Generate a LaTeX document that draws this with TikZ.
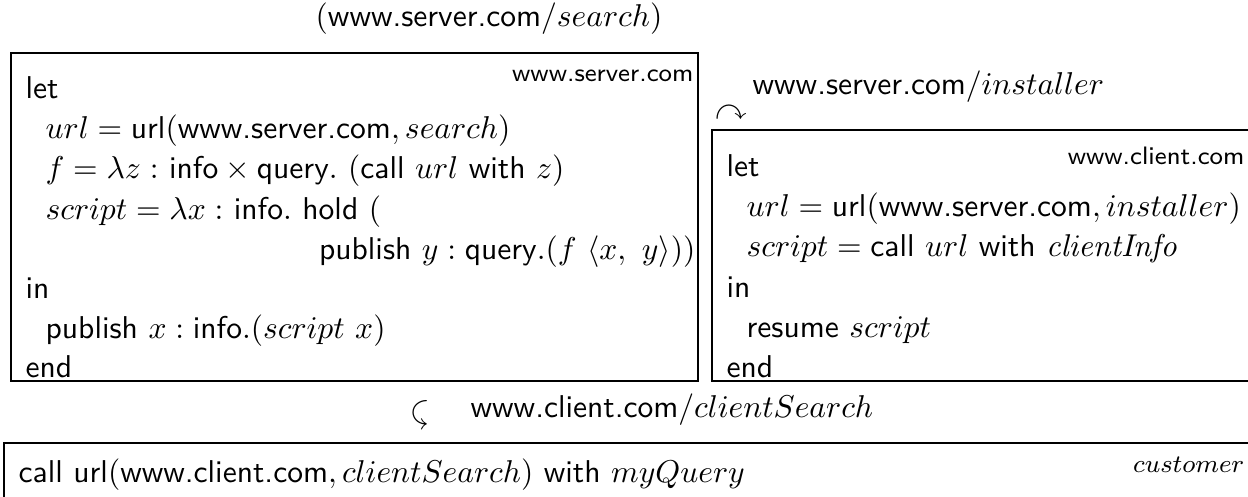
\documentclass[tikz,border=0pt]{standalone}
\usepackage{amssymb}
\usepackage{amsmath}
\usetikzlibrary{positioning}
\renewcommand{\familydefault}{\sfdefault}
\newcommand{\kw}[1]{\textsf{#1}}

\begin{document}
\begin{tikzpicture}[x=0.317pt,y=-0.317pt]
    \tikzstyle{code}=[anchor=base west, inner sep=0pt]
    \tikzstyle{site}=[anchor=base east, inner sep=0pt, font=\footnotesize]
    \tikzstyle{frame}=[draw, line width=0.5pt]
    \useasboundingbox (0,0) rectangle (1248,497);

    % the three boxes
    \draw[frame] (11,53) rectangle (698,381);
    \draw[frame] (1270,130) -- (712,130) -- (712,381) -- (1270,381);
    \draw[frame] (1270,443) -- (4,443) -- (4,520);

    % server
    \node[code, anchor=base] (title) at (489,27) {$(\kw{www.server.com}/search)$};
    \node[site]  (srv) at (694,82) {www.server.com};
    \node[code]  (s1) at (25,99)  {let};
    \node[code]  (s2) at (45,139) {$url = \kw{url}(\kw{www.server.com}, search)$};
    \node[code]  (s3) at (45,179) {$f = \lambda z\,\colon\kw{info}\times\kw{query}.\ (\kw{call}\ url\ \kw{with}\ z)$};
    \node[code]  (s4) at (45,219) {$script = \lambda x\,\colon\kw{info}.\ \kw{hold}\ ($};
    \node[code, anchor=base east] (s5) at (696,259) {$\kw{publish}\ y : \kw{query}.(f\ \langle x,\ y\rangle))$};
    \node[code]  (s6) at (25,298) {in};
    \node[code]  (s7) at (45,338) {$\kw{publish}\ x : \kw{info}.(script\ x)$};
    \node[code]  (s8) at (25,377) {end};

    % installer
    \node (arr1) at (731,113) {$\curvearrowright$};
    \node[code]  (inst) at (752,95) {www.server.com$/installer$};

    % client
    \node[site]  (cli) at (1245,165) {www.client.com};
    \node[code]  (c1) at (726,177) {let};
    \node[code]  (c2) at (746,217) {$url = \kw{url}(\kw{www.server.com}, installer)$};
    \node[code]  (c3) at (746,257) {$script = \kw{call}\ url\ \kw{with}\ \mathit{clientInfo}$};
    \node[code]  (c4) at (726,297) {in};
    \node[code]  (c5) at (746,337) {$\kw{resume}\ script$};
    \node[code]  (c6) at (726,377) {end};

    % client search
    \node[rotate=90] (arr2) at (421,415) {$\curvearrowleft$};
    \node[code]  (cs) at (470,417) {www.client.com$/clientSearch$};

    % customer
    \node[site]  (cust) at (1245,472) {$customer$};
    \node[code]  (q1) at (18,482) {call $\kw{url}(\kw{www.client.com}, clientSearch)$ with $myQuery$};
\end{tikzpicture}
\end{document}
